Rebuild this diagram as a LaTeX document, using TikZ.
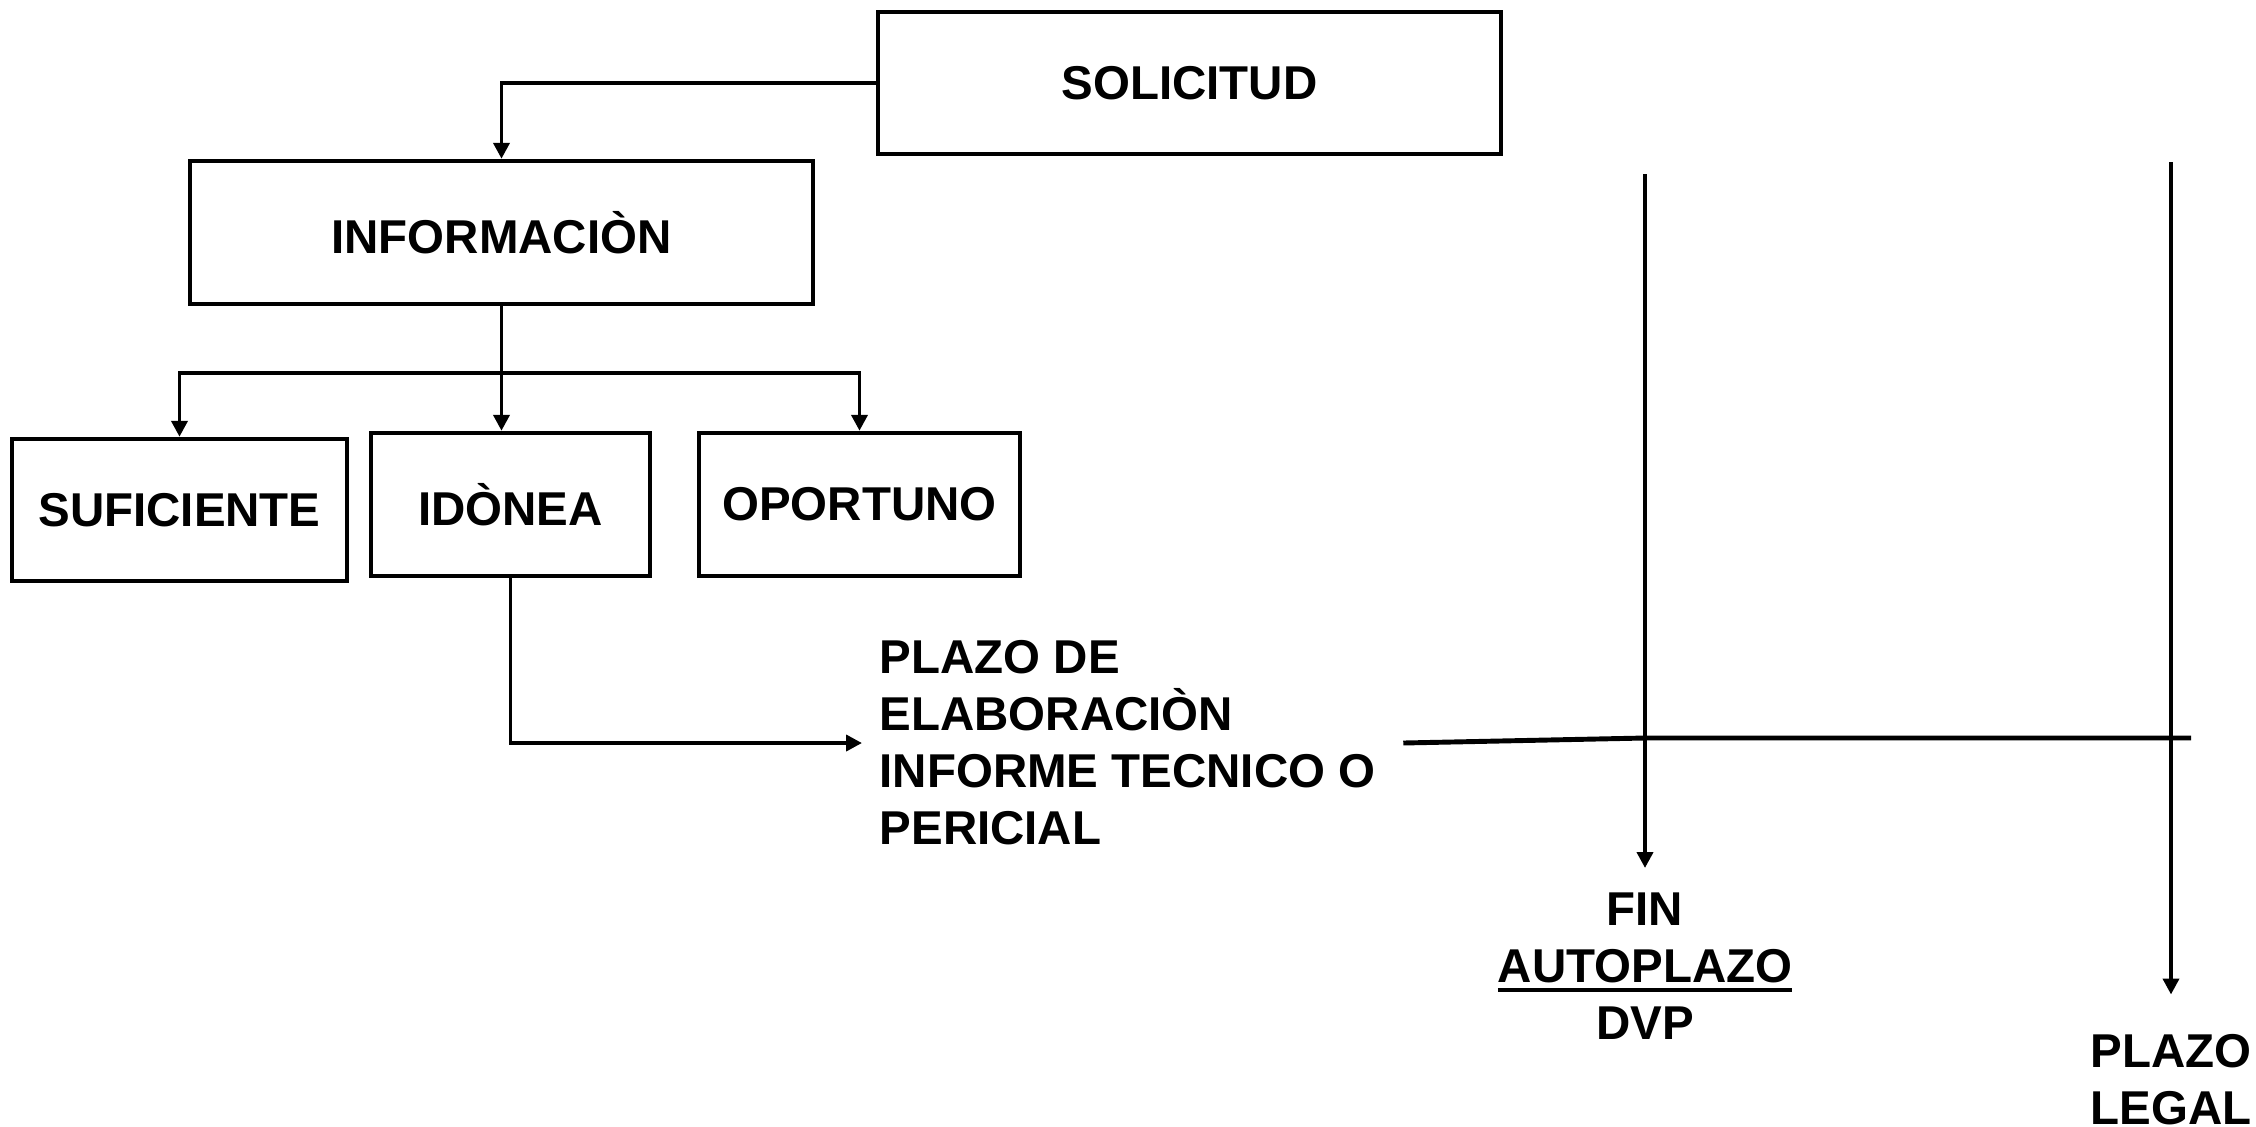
\documentclass[tikz,border=0pt]{standalone}
\usepackage{fontspec}
\setmainfont{Liberation Sans}
\usetikzlibrary{arrows.meta,positioning,calc}
\newcommand{\subrayar}[1]{\vtop{\hbox{#1}\kern1.4pt\hrule height 1.1pt}}
\tikzset{
  caja/.style={draw, line width=1.25pt, inner sep=0pt, font=\bfseries\fontsize{13.5}{16.2}\selectfont},
  texto/.style={align=center, font=\bfseries\fontsize{13.5}{16.2}\selectfont},
  flecha/.style={-{Triangle[length=4.5pt,width=4.5pt]}, line width=1.1pt},
}

\begin{document}
\begin{tikzpicture}[x=0.01cm,y=-0.01cm]
			\useasboundingbox (0,0) rectangle (2256,1126);
			\node[caja, minimum width=6.23cm, minimum height=1.42cm] (solicitud) at (1189.5,83) {SOLICITUD};
			\node[caja, minimum width=6.23cm, minimum height=1.43cm] (informacion) at (501.5,232.5) {INFORMACIÒN};
			\node[caja, minimum width=3.35cm, minimum height=1.42cm] (suficiente) at (179.5,510) {SUFICIENTE};
			\node[caja, minimum width=2.79cm, minimum height=1.43cm] (idonea) at (510.5,504.5) {IDÒNEA};
			\node[caja, minimum width=3.21cm, minimum height=1.43cm] (oportuno) at (859.5,504.5) {OPORTUNO};
			\node[texto, align=left, anchor=west, inner xsep=0.17cm] (plazo) at (862,743) {PLAZO DE\\ELABORACIÒN\\INFORME TECNICO O\\PERICIAL};
			\node[texto, inner sep=0.24cm] (fin) at (1645,966) {FIN\\\subrayar{AUTOPLAZO}\\DVP};
			\node[texto, inner xsep=0pt, inner ysep=0.39cm] (legal) at (2171,1079.5) {PLAZO\\LEGAL};
			
			\coordinate (rama) at ($(informacion.south)+(0,67)$);
			\coordinate (cruce) at (1645,738);
			\coordinate (finlinea) at (2191,738);
			\coordinate (arriba1) at (1645,174);
			\coordinate (arriba2) at (2171,162);
			
			\draw[flecha] (solicitud.west) -| (informacion.north);
			\draw[flecha] (informacion.south) -- (informacion.south |- idonea.north);
			\draw[flecha] (rama) -| (suficiente.north);
			\draw[flecha] (rama) -| (oportuno.north);
			\draw[flecha] (idonea.south) |- (plazo.west);
			\draw[line width=1.4pt] ([xshift=0.1cm]plazo.east) -- (cruce) -- (finlinea);
			\draw[flecha] (arriba1) -- (fin.north);
			\draw[flecha] (arriba2) -- (legal.north);
		\end{tikzpicture}
\end{document}
